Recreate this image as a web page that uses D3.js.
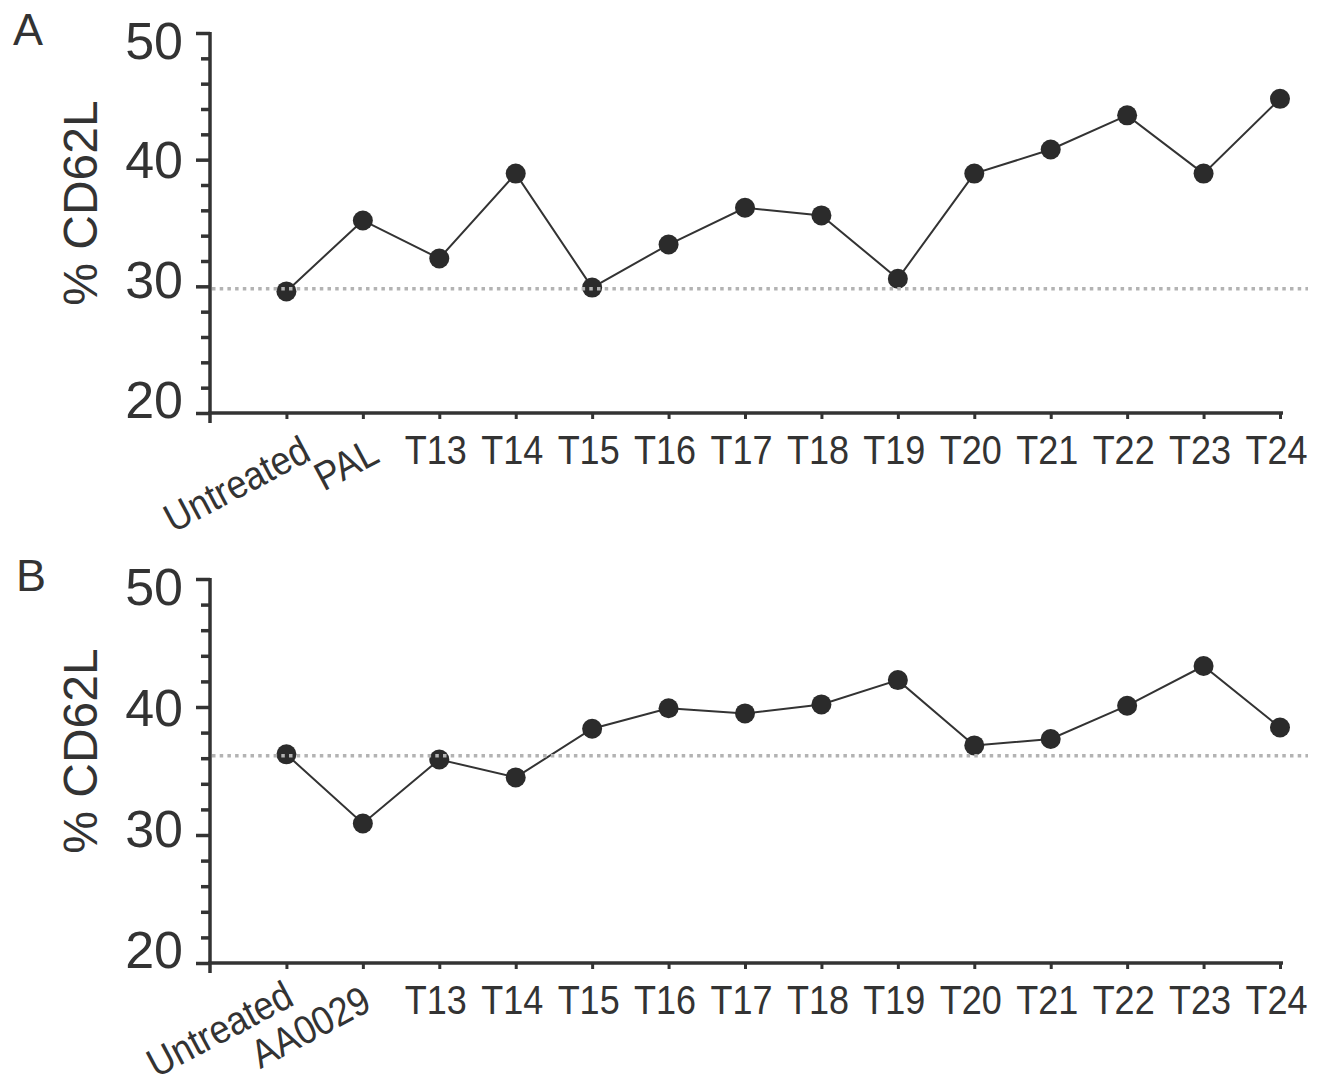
<!DOCTYPE html>
<html>
<head>
<meta charset="utf-8">
<script src="https://cdn.jsdelivr.net/npm/d3@7"></script>
<style>
  body { margin: 0; background: #fff; }
  svg { display: block; font-family: "Liberation Sans", Arial, sans-serif; }
</style>
</head>
<body>
<div id="chart"></div>
<script>

// data
var categoriesA = ['Untreated', 'PAL', 'T13', 'T14', 'T15', 'T16', 'T17', 'T18', 'T19', 'T20', 'T21', 'T22', 'T23', 'T24'];
var valuesA = [29.6, 35.2, 32.2, 38.9, 29.9, 33.3, 36.2, 35.6, 30.6, 38.9, 40.8, 43.5, 38.9, 44.8];
var baselineA = 29.8;

var categoriesB = ['Untreated', 'AA0029', 'T13', 'T14', 'T15', 'T16', 'T17', 'T18', 'T19', 'T20', 'T21', 'T22', 'T23', 'T24'];
var valuesB = [36.3, 30.9, 35.9, 34.5, 38.3, 39.9, 39.5, 40.2, 42.1, 37.0, 37.5, 40.1, 43.2, 38.4];
var baselineB = 36.2;

var yMajorTicks = [20, 30, 40, 50];
var yMinorTicks = [22, 24, 26, 28, 32, 34, 36, 38, 42, 44, 46, 48];
var yTitle = '% CD62L';

var ink = '#333';

var svg = d3.select('#chart').append('svg')
    .attr('width', 1339)
    .attr('height', 1082);

function drawPanel(opts) {

  var g = svg.append('g');
  var origin = ' ';

  var x = d3.scalePoint()
    .domain([origin].concat(opts.categories))
    .range([210, 1280]);

  var y = d3.scaleLinear()
    .domain([20, 50])
    .range([opts.bottom, opts.top]);

  var mid = (opts.top + opts.bottom) / 2;

  // panel letter
  g.append('text')
      .attr('x', opts.letterX)
      .attr('y', opts.top + 12)
      .attr('font-size', 45)
      .attr('fill', ink)
      .text(opts.letter);

  // y title
  g.append('text')
      .attr('transform', 'translate(97,' + (mid - 20) + ') rotate(-90)')
      .attr('text-anchor', 'middle')
      .attr('font-size', 48)
      .attr('fill', ink)
      .text(yTitle);

  // minor y ticks
  var minor = g.append('g')
      .attr('transform', 'translate(210,0)')
      .call(d3.axisLeft(y).tickValues(yMinorTicks).tickSize(9).tickFormat(''));
  minor.select('.domain').remove();
  minor.selectAll('line').attr('stroke', ink).attr('stroke-width', 3.5);

  // major y axis
  var yAxis = g.append('g')
      .attr('transform', 'translate(210,0)')
      .call(d3.axisLeft(y).tickValues(yMajorTicks).tickSize(14).tickSizeOuter(0).tickPadding(13));
  yAxis.select('.domain').attr('stroke', ink).attr('stroke-width', 3.5)
      .attr('d', 'M0,' + (opts.bottom + 10) + 'V' + (opts.top - 1));
  yAxis.selectAll('line').attr('stroke', ink).attr('stroke-width', 3.5);
  // labels in the figure sit slightly closer together than the ticks
  yAxis.selectAll('text')
      .attr('font-size', 52)
      .attr('fill', ink)
      .attr('font-family', '"Liberation Sans", Arial, sans-serif')
      .attr('transform', function (d) { return 'translate(0,' + ((y(d) - mid) * -0.055 - 2) + ')'; });

  // x axis
  var xAxis = g.append('g')
      .attr('transform', 'translate(0,' + opts.bottom + ')')
      .call(d3.axisBottom(x).tickValues(opts.categories).tickSize(6).tickSizeOuter(0).tickPadding(17));
  xAxis.select('.domain').attr('stroke', ink).attr('stroke-width', 3.5)
      .attr('d', 'M208,0H1283');
  xAxis.selectAll('line').attr('stroke', ink).attr('stroke-width', 3);
  xAxis.selectAll('text')
      .attr('font-size', 40)
      .attr('fill', ink)
      .attr('font-family', '"Liberation Sans", Arial, sans-serif')
      .each(function (d, i) {
        var t = d3.select(this);
        if (i < opts.slant.length) {
          // first two labels are slanted
          var off = opts.slant[i];
          t.attr('text-anchor', 'end')
              .attr('y', 0)
              .attr('dy', 0)
              .attr('transform', 'translate(' + off[0] + ',' + off[1] + ') rotate(-28) scale(0.9,1)');
        } else {
          t.attr('transform', 'translate(-4,0) scale(0.9,1)');
        }
      });

  // series line
  var pts = opts.categories.map(function (c, i) { return { cat: c, value: opts.values[i] }; });

  g.append('path')
      .datum(pts)
      .attr('fill', 'none')
      .attr('stroke', ink)
      .attr('stroke-width', 2)
      .attr('d', d3.line()
        .x(function (d) { return x(d.cat); })
        .y(function (d) { return y(d.value); }));

  g.selectAll('circle')
      .data(pts)
      .enter()
    .append('circle')
      .attr('cx', function (d) { return x(d.cat); })
      .attr('cy', function (d) { return y(d.value); })
      .attr('r', 10)
      .attr('fill', '#2b2b2b');

  // dotted reference line (untreated level)
  g.append('line')
      .attr('x1', 212)
      .attr('x2', 1308)
      .attr('y1', y(opts.baseline))
      .attr('y2', y(opts.baseline))
      .attr('stroke', '#b3b3b3')
      .attr('stroke-width', 3.5)
      .attr('stroke-dasharray', '3.5,4.2');
}

drawPanel({
  letter: 'A', letterX: 13, top: 33, bottom: 413,
  categories: categoriesA, values: valuesA, baseline: baselineA,
  slant: [[26, 46], [18, 48]]
});
drawPanel({
  letter: 'B', letterX: 16, top: 579, bottom: 963,
  categories: categoriesB, values: valuesB, baseline: baselineB,
  slant: [[9, 41], [10, 46]]
});

</script>
</body>
</html>
